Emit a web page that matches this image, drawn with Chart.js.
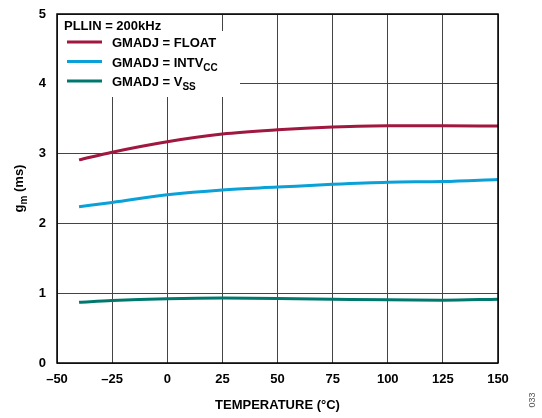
<!DOCTYPE html>
<html>
<head>
<meta charset="utf-8">
<script src="https://cdn.jsdelivr.net/npm/chart.js@4"></script>
<style>
  body { margin: 0; background: #fff; }
  #wrap { width: 542px; height: 418px; position: relative; }
</style>
</head>
<body>
<div id="wrap"><canvas id="gmChart"></canvas></div>
<script>
// temperature points (°C)
const temps = [-40, -25, 0, 25, 50, 75, 100, 125, 150];
// gm (ms)
const gmFloat = [2.91, 3.02, 3.17, 3.28, 3.34, 3.38, 3.40, 3.40, 3.395];
const gmIntvcc = [2.24, 2.30, 2.41, 2.48, 2.52, 2.56, 2.59, 2.60, 2.63];
const gmVss = [0.87, 0.895, 0.92, 0.93, 0.925, 0.915, 0.905, 0.90, 0.915];

const xTicks = [-50, -25, 0, 25, 50, 75, 100, 125, 150];
const yTicks = [0, 1, 2, 3, 4, 5];

const seriesNames = ["GMADJ = FLOAT", "GMADJ = INTV", "GMADJ = V"];
const seriesSubs = ["", "CC", "SS"];
const seriesColors = ["#a0173f", "#0aa0d8", "#00786e"];

const FONT = "Arial, 'Liberation Sans', sans-serif";

function toPoints(vals) {
  return temps.map((t, i) => ({ x: t, y: vals[i] }));
}

// white box under the legend, frame, legend text, y title
const decor = {
  id: "decor",
  beforeDatasetsDraw(chart) {
    const ctx = chart.ctx;
    const a = chart.chartArea;
    ctx.save();
    ctx.fillStyle = "#fff";
    ctx.fillRect(a.left + 1, a.top + 1, 150, 17);
    ctx.fillRect(a.left + 1, a.top + 17, 182, 66);
    ctx.restore();
  },
  afterDraw(chart) {
    const ctx = chart.ctx;
    const a = chart.chartArea;
    ctx.save();
    ctx.strokeStyle = "#000";
    ctx.lineWidth = 1.5;
    ctx.strokeRect(a.left, a.top, a.right - a.left, a.bottom - a.top);

    ctx.fillStyle = "#000";
    ctx.textBaseline = "alphabetic";
    ctx.font = "bold 13px " + FONT;
    ctx.fillText("PLLIN = 200kHz", a.left + 7, a.top + 16);

    for (let i = 0; i < seriesNames.length; i++) {
      const ly = a.top + 28 + i * 19.5;
      ctx.strokeStyle = seriesColors[i];
      ctx.lineWidth = 3;
      ctx.beginPath();
      ctx.moveTo(a.left + 10, ly);
      ctx.lineTo(a.left + 45, ly);
      ctx.stroke();
      ctx.font = "bold 13px " + FONT;
      ctx.fillText(seriesNames[i], a.left + 55, ly + 5);
      if (seriesSubs[i]) {
        const w = ctx.measureText(seriesNames[i]).width;
        ctx.font = "bold 10px " + FONT;
        ctx.fillText(seriesSubs[i], a.left + 55 + w, ly + 9);
      }
    }

    // y axis title with subscript
    ctx.translate(23, (a.top + a.bottom) / 2);
    ctx.rotate(-Math.PI / 2);
    ctx.font = "bold 13px " + FONT;
    const g = "g", m = "m", rest = " (ms)";
    const wg = ctx.measureText(g).width;
    const wr = ctx.measureText(rest).width;
    ctx.font = "bold 10px " + FONT;
    const wm = ctx.measureText(m).width;
    let x0 = -(wg + wm + wr) / 2;
    ctx.font = "bold 13px " + FONT;
    ctx.fillText(g, x0, 0);
    ctx.font = "bold 10px " + FONT;
    ctx.fillText(m, x0 + wg, 4);
    ctx.font = "bold 13px " + FONT;
    ctx.fillText(rest, x0 + wg + wm, 0);
    ctx.restore();

    // figure number
    ctx.save();
    ctx.translate(535, 400);
    ctx.rotate(-Math.PI / 2);
    ctx.fillStyle = "#555";
    ctx.font = "9px " + FONT;
    ctx.textAlign = "center";
    ctx.fillText("033", 0, 0);
    ctx.restore();
  }
};

const ctx = document.getElementById("gmChart").getContext("2d");

const datasets = [gmFloat, gmIntvcc, gmVss].map((vals, i) => ({
  label: seriesNames[i] + seriesSubs[i],
  data: toPoints(vals),
  borderColor: seriesColors[i],
  borderWidth: 3,
  pointRadius: 0,
  cubicInterpolationMode: "monotone",
  fill: false
}));

new Chart(ctx, {
  type: "line",
  data: { datasets: datasets },
  options: {
    responsive: true,
    maintainAspectRatio: false,
    animation: false,
    layout: { padding: { top: 14, right: 44, left: 0, bottom: 0 } },
    plugins: { legend: { display: false }, tooltip: { enabled: false } },
    scales: {
      x: {
        type: "linear",
        min: -50,
        max: 150,
        afterBuildTicks(scale) {
          scale.ticks = xTicks.map(v => ({ value: v }));
        },
        afterFit(scale) { scale.height = 55; },
        grid: { color: "#444", lineWidth: 1, drawTicks: false },
        border: { display: false },
        ticks: {
          color: "#000",
          padding: 9,
          maxRotation: 0,
          font: { family: FONT, size: 13, weight: "bold" },
          callback: v => String(v).replace("-", "\u2013")
        },
        title: {
          display: true,
          text: "TEMPERATURE (\u00b0C)",
          color: "#000",
          padding: { top: 0, bottom: 5 },
          font: { family: FONT, size: 13, weight: "bold" }
        }
      },
      y: {
        min: 0,
        max: 5,
        afterBuildTicks(scale) {
          scale.ticks = yTicks.map(v => ({ value: v }));
        },
        afterFit(scale) { scale.width = 57; },
        grid: {
          color: "#444",
          lineWidth: 1,
          drawTicks: true,
          tickLength: 11,
          tickColor: "rgba(0,0,0,0)"
        },
        border: { display: false },
        ticks: {
          color: "#000",
          padding: 0,
          font: { family: FONT, size: 13, weight: "bold" }
        }
      }
    }
  },
  plugins: [decor]
});
</script>
</body>
</html>
